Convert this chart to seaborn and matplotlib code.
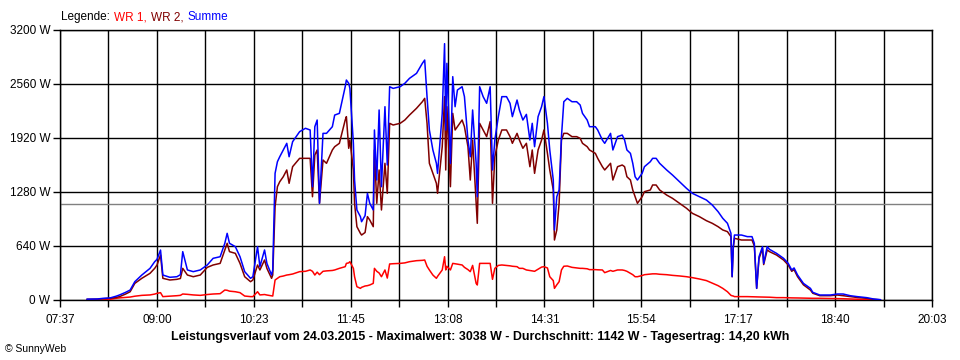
import pandas as pd
import matplotlib.pyplot as plt
import seaborn as sns

# readings taken off the SunnyWeb daily chart (24.03.2015)
times = [
    "08:00", "08:09", "08:14", "08:20", "08:25", "08:28", "08:33", "08:37", "08:41", "08:47",
    "08:54", "08:58", "09:00", "09:03", "09:05", "09:11", "09:17", "09:20", "09:22", "09:26",
    "09:31", "09:37", "09:43", "09:48", "09:54", "09:58", "10:00", "10:02", "10:07", "10:11",
    "10:15", "10:20", "10:22", "10:26", "10:28", "10:32", "10:34", "10:38", "10:39", "10:41",
    "10:43", "10:45", "10:48", "10:51", "10:53", "10:56", "11:02", "11:07", "11:11", "11:13",
    "11:15", "11:17", "11:19", "11:22", "11:25", "11:30", "11:32", "11:36", "11:41", "11:42",
    "11:44", "11:45", "11:48", "11:49", "11:51", "11:54", "11:55", "11:58", "12:00", "12:02",
    "12:05", "12:06", "12:08", "12:10", "12:12", "12:15", "12:17", "12:19", "12:22", "12:28",
    "12:32", "12:36", "12:42", "12:47", "12:49", "12:51", "12:53", "12:56", "12:59", "13:00",
    "13:04", "13:06", "13:07", "13:08", "13:11", "13:13", "13:15", "13:17", "13:21", "13:23",
    "13:26", "13:28", "13:30", "13:33", "13:34", "13:36", "13:39", "13:42", "13:45", "13:47",
    "13:49", "13:52", "13:55", "13:59", "14:02", "14:04", "14:08", "14:10", "14:13", "14:16",
    "14:19", "14:21", "14:23", "14:26", "14:29", "14:31", "14:34", "14:36", "14:39", "14:40",
    "14:42", "14:44", "14:46", "14:48", "14:51", "14:55", "14:59", "15:02", "15:04", "15:08",
    "15:10", "15:15", "15:17", "15:21", "15:23", "15:28", "15:30", "15:34", "15:38", "15:40",
    "15:42", "15:45", "15:47", "15:49", "15:51", "15:55", "15:57", "16:02", "16:04", "16:07",
    "16:10", "16:16", "16:21", "16:27", "16:33", "16:38", "16:44", "16:50", "16:55", "17:00",
    "17:04", "17:08", "17:11", "17:12", "17:13", "17:14", "17:20", "17:25", "17:29", "17:31",
    "17:33", "17:35", "17:38", "17:39", "17:42", "17:44", "17:50", "17:56", "18:00", "18:03",
    "18:05", "18:08", "18:13", "18:19", "18:21", "18:27", "18:36", "18:42", "18:47", "18:53",
    "18:59", "19:07", "19:13", "19:19",
]

summe = [
    10, 12, 20, 25, 45, 60, 90, 118, 217, 296,
    375, 454, 482, 592, 296, 269, 276, 300, 573, 356,
    336, 356, 415, 494, 513, 672, 790, 672, 632, 513,
    336, 257, 276, 632, 395, 593, 434, 296, 356, 1501,
    1639, 1698, 1778, 1857, 1698, 1876, 1995, 2035, 2015, 1343,
    2054, 2133, 1146, 1975, 1975, 2054, 2192, 2212, 2528, 2607,
    2568, 2508, 1857, 1422, 1067, 988, 928, 1000, 1264, 1146,
    1067, 2015, 1422, 2252, 1343, 2291, 1600, 2528, 2508, 2528,
    2568, 2627, 2686, 2805, 2844, 2410, 2015, 1778, 1620, 1501,
    2212, 3038, 2015, 2805, 1620, 2647, 2291, 2489, 2528, 2410,
    1896, 1698, 2252, 1620, 1224, 2528, 2410, 2331, 2528, 1541,
    1896, 2173, 2410, 2410, 2331, 2173, 2370, 2252, 2133, 2200,
    1896, 2094, 1817, 2173, 2291, 2410, 2094, 1778, 1422, 830,
    1224, 1304, 1936, 2350, 2390, 2350, 2350, 2311, 2212, 2133,
    2054, 2054, 2015, 1896, 1857, 1975, 1778, 1936, 1955, 1896,
    1778, 1738, 1620, 1461, 1422, 1501, 1580, 1639, 1679, 1679,
    1620, 1541, 1481, 1402, 1323, 1264, 1224, 1185, 1126, 1047,
    968, 909, 790, 276, 632, 770, 770, 751, 751, 672,
    138, 513, 632, 434, 632, 600, 553, 494, 434, 356,
    380, 296, 197, 138, 91, 59, 59, 71, 71, 51,
    40, 28, 12, 4,
]

wr2 = [
    8, 10, 15, 20, 30, 40, 70, 98, 197, 257,
    316, 375, 415, 533, 257, 237, 245, 255, 375, 296,
    276, 296, 387, 415, 434, 593, 672, 573, 553, 434,
    276, 217, 237, 415, 356, 474, 375, 257, 296, 1106,
    1343, 1402, 1461, 1541, 1383, 1580, 1679, 1679, 1679, 1224,
    1718, 1778, 1146, 1659, 1620, 1778, 1817, 1857, 2133, 2173,
    1798, 1896, 1541, 1146, 869, 790, 770, 800, 988, 948,
    869, 1778, 1146, 1541, 1067, 1620, 1264, 2094, 2074, 2094,
    2133, 2192, 2272, 2350, 2390, 2094, 1620, 1501, 1383, 1264,
    1817, 2410, 1541, 2291, 1343, 2212, 2015, 2054, 2133, 2054,
    1817, 1422, 1896, 1146, 909, 2094, 2015, 1936, 2114, 1146,
    1698, 1896, 2015, 2015, 1936, 1857, 1975, 1896, 1798, 1857,
    1580, 1778, 1501, 1778, 1896, 2015, 1738, 1541, 1304, 711,
    830, 1146, 1896, 1975, 1975, 1936, 1936, 1916, 1857, 1817,
    1778, 1738, 1679, 1580, 1541, 1620, 1422, 1580, 1600, 1580,
    1461, 1422, 1304, 1224, 1146, 1224, 1284, 1304, 1363, 1363,
    1304, 1244, 1205, 1146, 1087, 1027, 988, 940, 909, 869,
    830, 810, 751, 276, 620, 731, 711, 711, 711, 640,
    138, 490, 612, 420, 593, 573, 533, 474, 415, 340,
    360, 276, 180, 118, 80, 51, 51, 59, 51, 40,
    30, 20, 8, 2,
]

wr1 = [
    0, 0, 0, 8, 20, 25, 30, 35, 45, 55,
    60, 70, 79, 87, 40, 45, 51, 55, 71, 67,
    60, 55, 65, 71, 75, 118, 115, 105, 98, 87,
    47, 40, 40, 98, 60, 65, 59, 50, 47, 237,
    257, 276, 284, 296, 300, 308, 336, 340, 356, 340,
    296, 330, 300, 340, 345, 350, 356, 375, 395, 434,
    440, 454, 375, 276, 158, 138, 150, 166, 170, 178,
    197, 375, 340, 320, 276, 356, 260, 427, 430, 434,
    440, 454, 466, 470, 474, 400, 356, 296, 257, 280,
    356, 513, 356, 400, 356, 434, 430, 425, 415, 387,
    360, 336, 410, 197, 178, 434, 434, 434, 434, 245,
    375, 410, 415, 410, 405, 400, 395, 375, 375, 356,
    350, 345, 340, 365, 390, 395, 380, 276, 230, 138,
    180, 217, 356, 400, 403, 387, 380, 375, 375, 370,
    360, 360, 358, 356, 324, 350, 340, 356, 356, 350,
    340, 316, 300, 276, 276, 290, 300, 308, 310, 310,
    305, 300, 292, 285, 276, 265, 249, 230, 200, 170,
    138, 98, 55, 50, 47, 40, 40, 40, 38, 38,
    36, 36, 35, 35, 34, 33, 28, 28, 26, 25,
    25, 24, 22, 20, 20, 20, 18, 16, 15, 12,
    10, 5, 2, 0,
]

x_tick_labels = ["07:37", "09:00", "10:23", "11:45", "13:08",
                 "14:31", "15:54", "17:17", "18:40", "20:03"]
y_ticks = [0, 640, 1280, 1920, 2560, 3200]
average = 1142

series_names = ["WR 1", "WR 2", "Summe"]
colors = {"WR 1": "#ff0000", "WR 2": "#800000", "Summe": "#0000ff"}

def to_minutes(s):
    h, m = s.split(":")
    return int(h) * 60 + int(m)

minutes = [to_minutes(t) for t in times]
df = pd.concat([
    pd.DataFrame({"min": minutes, "W": vals, "Serie": name})
    for name, vals in zip(series_names, [wr1, wr2, summe])
])

sns.set_style("white")
plt.rcParams["font.family"] = ["Liberation Sans", "DejaVu Sans"]

fig = plt.figure(figsize=(9.6, 3.6), dpi=100)
ax = fig.add_axes([60 / 960, 60 / 360, 872 / 960, 270 / 360])

x_start = to_minutes(x_tick_labels[0])
x_end = to_minutes(x_tick_labels[-1])
step = (x_end - x_start) / 18
grid_x = [x_start + i * step for i in range(19)]

for gx in grid_x:
    ax.axvline(gx, color="black", lw=1.0, zorder=1)
for gy in y_ticks:
    ax.axhline(gy, color="black", lw=1.0, zorder=1)
ax.axhline(average, color="#808080", lw=1.0, zorder=1)

sns.lineplot(data=df, x="min", y="W", hue="Serie", hue_order=series_names,
             palette=colors, estimator=None, sort=True, lw=1.1,
             legend=False, ax=ax, zorder=3)

ax.set_xlim(x_start, x_end)
ax.set_ylim(0, 3200)
ax.set_xticks(grid_x)
ax.set_xticklabels([x_tick_labels[i // 2] if i % 2 == 0 else "" for i in range(19)])
ax.set_yticks(y_ticks)
ax.set_yticklabels([f"{v} W" for v in y_ticks])
ax.tick_params(axis="both", length=5, width=1, color="black", labelsize=8.5,
               labelcolor="black", pad=2, bottom=True, left=True)
ax.tick_params(axis="x", pad=5)
ax.set_xlabel("")
ax.set_ylabel("")
for sp in ax.spines.values():
    sp.set_color("black")
    sp.set_linewidth(1.0)

# legend line at the top
t0 = fig.text(61 / 960, 1 - 17 / 360, "Legende:", fontsize=8.5, va="center", color="black")
prev = t0
for name, txt in zip(series_names, ["WR 1,", "WR 2,", "Summe"]):
    prev = ax.annotate(txt, xy=(1, 0), xycoords=prev, xytext=(3, 0),
                       textcoords="offset points", fontsize=8.5, va="bottom",
                       color=colors[name], annotation_clip=False)

fig.text(480 / 960, 1 - 337 / 360,
         "Leistungsverlauf vom 24.03.2015 - Maximalwert: 3038 W - Durchschnitt: 1142 W - Tagesertrag: 14,20 kWh",
         ha="center", va="center", fontsize=8.9, fontweight="bold", color="black")
fig.text(5 / 960, 1 - 349 / 360, "© SunnyWeb", fontsize=7.5, va="center", color="black")

plt.savefig("out.png", dpi=100)
